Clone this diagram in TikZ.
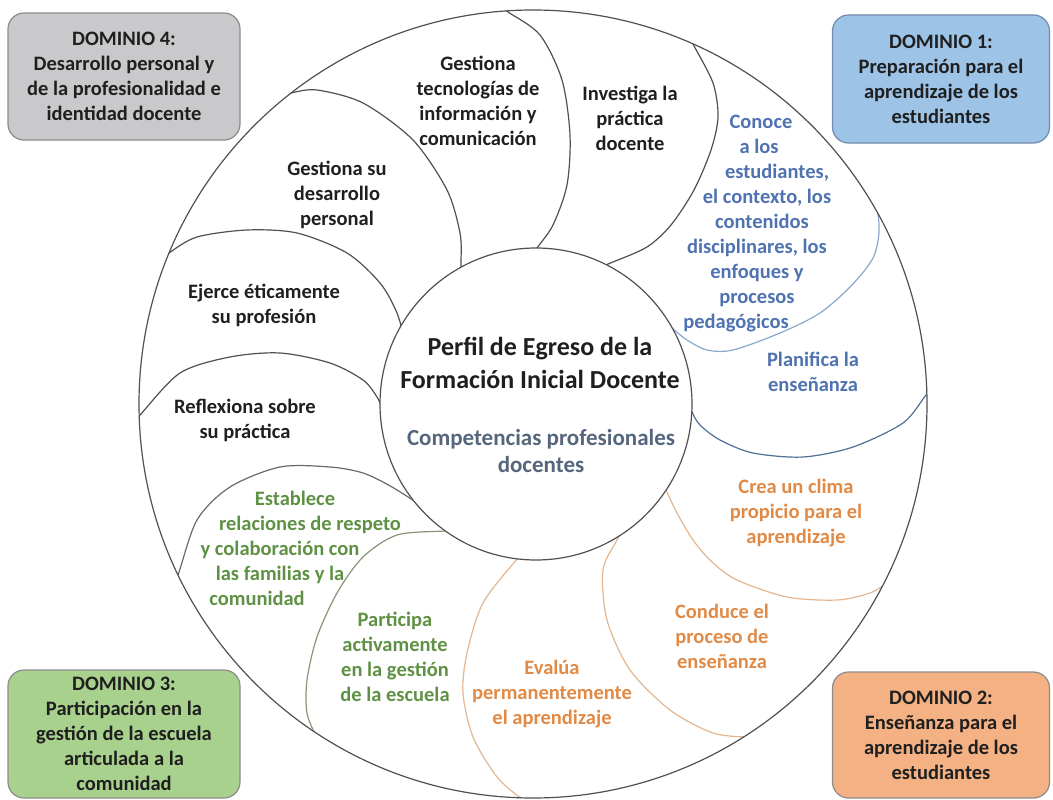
\documentclass[tikz,border=0pt]{standalone}
\usepackage{fontspec}
\setmainfont{Carlito}
\usepackage{xcolor}
\usepackage{tikz}

\definecolor{linedark}{HTML}{505050}
\definecolor{lineblue}{HTML}{4F6E98}
\definecolor{lineblueL}{HTML}{8BA6CF}
\definecolor{lineorange}{HTML}{E4B68E}
\definecolor{linegreen}{HTML}{8A9478}
\definecolor{txtblue}{HTML}{4F72B0}
\definecolor{txtorange}{HTML}{E08A46}
\definecolor{txtgreen}{HTML}{5F9144}
\definecolor{txtslate}{HTML}{56677D}
\definecolor{boxgray}{HTML}{C9C9CC}
\definecolor{boxblue}{HTML}{9DC3E6}
\definecolor{boxgreen}{HTML}{A9D18E}
\definecolor{boxorange}{HTML}{F4B183}

\begin{document}
\begin{tikzpicture}[x=1pt,y=-1pt,line width=1.2pt]
    \tikzstyle{every node}=[align=center, inner sep=0pt, text=black!88, font=\bfseries\fontsize{20.5}{25}\selectfont]
    \tikzstyle{dombox}=[rounded corners=16pt, line width=1.2pt, minimum width=232pt, minimum height=127pt]
    \tikzstyle{petalline}=[line width=1.2pt]
    \useasboundingbox (0,0) rectangle (1053,800);

    % petal borders
    \begin{scope}
    \clip (533,404) circle[radius=394pt];
    \draw [petalline, linedark] plot[smooth] coordinates {(494,2) (508,12) (540,35) (562,80) (570,135) (567,185) (553,225) (537,248) (528,262)};
    \draw [petalline, linedark] plot[smooth] coordinates {(686,30) (693,44) (713,83) (718,117) (711,150) (694,190) (671,225) (647,247) (613,262) (598,268)};
    \draw [petalline, lineblueL] plot[smooth] coordinates {(862,180) (876,205) (879,232) (873,258) (852,285) (820,313) (780,333) (733,350) (707,350) (687,340) (672,328) (662,318)};
    \draw [petalline, lineblue] plot[smooth] coordinates {(935,386) (926,395) (903,423) (853,447) (803,457) (753,453) (720,440) (700,425) (692,412) (688,402)};
    \draw [petalline, lineorange] plot[smooth] coordinates {(660,478) (666,490) (677,513) (693,540) (712,562) (737,580) (787,597) (837,600) (870,593) (888,582) (898,574)};
    \draw [petalline, lineorange] plot[smooth] coordinates {(625,525) (617,540) (603,570) (607,620) (630,670) (670,710) (713,733) (750,737) (765,735)};
    \draw [petalline, lineorange] plot[smooth] coordinates {(527,548) (517,559) (483,603) (467,653) (463,693) (473,737) (497,777) (523,800) (535,808)};
    \draw [petalline, linegreen] plot[smooth] coordinates {(460,530) (445,531) (397,535) (363,557) (337,593) (317,637) (307,680) (307,713) (317,737) (330,750)};
    \draw [petalline, linedark!85] plot[smooth] coordinates {(170,590) (178,575) (197,520) (230,487) (280,467) (330,467) (363,473) (392,487) (425,508)};
    \draw [petalline, linedark] plot[smooth] coordinates {(132,423) (140,415) (180,373) (230,357) (280,353) (330,363) (363,380) (377,397) (384,412)};
    \draw [petalline, linedark] plot[smooth] coordinates {(160,262) (169,253) (197,237) (247,230) (297,233) (347,253) (380,283) (397,313) (406,345)};
    \draw [petalline, linedark] plot[smooth] coordinates {(280,97) (291,93) (317,90) (363,103) (413,140) (447,190) (460,233) (461,262) (460,280)};
    \end{scope}

    \draw [petalline, linedark, fill=white] (536,404) circle[radius=156pt];
    \draw [petalline, linedark] (533,404) circle[radius=394pt];

    % centre
    \node [font=\bfseries\fontsize{26}{33}\selectfont] (perfil) at (540,363) {Perfil de Egreso de la\\Formación Inicial Docente};
    \node [text=txtslate, font=\bfseries\fontsize{23}{27}\selectfont] (compet) at (541,451) {Competencias profesionales\\docentes};

    % dominio 4
    \node (tic) at (478,101) {Gestiona\\tecnologías de\\información y\\comunicación};
    \node (invest) at (630,118) {Investiga la\\práctica\\docente};
    \node (desarr) at (337,195) {Gestiona su\\desarrollo\\personal};
    \node (etica) at (264,305) {Ejerce éticamente\\su profesión};
    \node (reflex) at (245,420) {Reflexiona sobre\\su práctica};

    % dominio 1
    \node [text=txtblue] (conoce) at (757,224) {\hspace*{8pt}Conoce\\\hspace*{4pt}a los\\\hspace*{40pt}estudiantes,\\\hspace*{20pt}el contexto, los\\\hspace*{10pt}contenidos\\disciplinares, los\\enfoques y\hspace*{8pt}\\procesos\hspace*{28pt}\\pedagógicos\hspace*{42pt}};
    \node [text=txtblue] (planif) at (813,372) {Planifica la\\enseñanza};

    % dominio 2
    \node [text=txtorange] (clima) at (796,513) {Crea un clima\\propicio para el\\aprendizaje};
    \node [text=txtorange] (conduce) at (722,636) {Conduce el\\proceso de\\enseñanza};
    \node [text=txtorange] (evalua) at (552,694) {Evalúa\\permanentemente\\el aprendizaje};

    % dominio 3
    \node [text=txtgreen] (particip) at (395,657) {Participa\\activamente\\en la gestión\\de la escuela};
    \node [text=txtgreen] (relac) at (280,548) {\hspace*{30pt}Establece\\\hspace*{60pt}relaciones de respeto\\y colaboración con\\las familias y la\hspace*{40pt}\\comunidad\hspace*{46pt}};

    \node [dombox, draw=black!45, fill=boxgray] (dom4) at (124,76.5) {DOMINIO 4:\\Desarrollo personal y\\de la profesionalidad e\\identidad docente};
    \node [dombox, draw=lineblue!80, fill=boxblue, minimum width=217pt, minimum height=128pt] (dom1) at (941,79) {DOMINIO 1:\\Preparación para el\\aprendizaje de los\\estudiantes};
    \node [dombox, draw=black!45, fill=boxgreen, minimum height=128pt] (dom3) at (124,734) {DOMINIO 3:\\Participación en la\\gestión de la escuela\\articulada a la\\comunidad};
    \node [dombox, draw=black!45, fill=boxorange, minimum width=217pt, minimum height=126pt] (dom2) at (941,735) {DOMINIO 2:\\Enseñanza para el\\aprendizaje de los\\estudiantes};
\end{tikzpicture}
\end{document}
